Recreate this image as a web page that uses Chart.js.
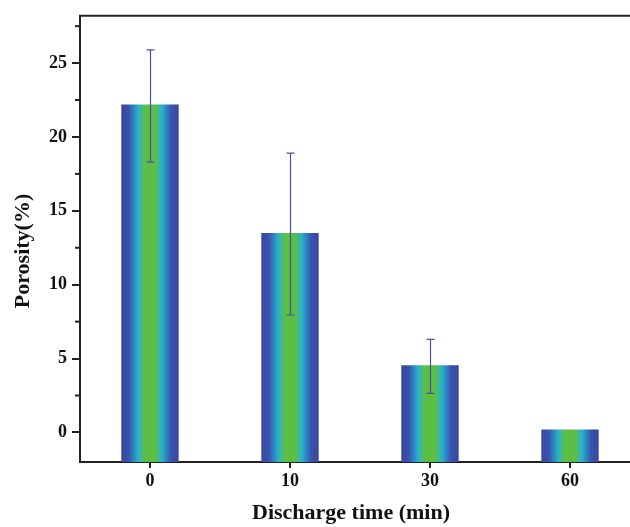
<!DOCTYPE html>
<html>
<head>
<meta charset="utf-8">
<script src="https://cdn.jsdelivr.net/npm/chart.js@4"></script>
<style>
    html, body { margin: 0; padding: 0; background: #fff; overflow: hidden; }
    #wrap { width: 645px; height: 527px; }
</style>
</head>
<body>
<div id="wrap"><canvas id="porosity"></canvas></div>
<script>
// data
const dischargeTimes = ['0', '10', '30', '60'];
const porosity = [22.2, 13.5, 4.55, 0.2];
const errUpper = [25.9, 18.9, 6.3, 0.2];
const errLower = [18.3, 7.95, 2.65, 0.2];
const yMajorTicks = [0, 5, 10, 15, 20, 25];
const yMinorTicks = [2.5, 7.5, 12.5, 17.5, 22.5, 27.5];
const yMin = -2;
const yMax = 28.2;

const serif = "'Liberation Serif', 'Times New Roman', serif";

function barGradient(context) {
    const chart = context.chart;
    const xs = chart.scales.x;
    if (!chart.chartArea || !xs) {
        return '#3a4ea6';
    }
    const cx = xs.getPixelForValue(context.dataIndex);
    const half = xs.width / dischargeTimes.length * 0.4 / 2;
    const g = chart.ctx.createLinearGradient(cx - half, 0, cx + half, 0);
    g.addColorStop(0.0, '#3b47a0');
    g.addColorStop(0.12, '#3a52ac');
    g.addColorStop(0.21, '#2f84c4');
    g.addColorStop(0.29, '#29b3c9');
    g.addColorStop(0.37, '#4cbb72');
    g.addColorStop(0.42, '#5cbf44');
    g.addColorStop(0.58, '#5cbf44');
    g.addColorStop(0.63, '#4cbb72');
    g.addColorStop(0.71, '#29b3c9');
    g.addColorStop(0.79, '#2f84c4');
    g.addColorStop(0.88, '#3a52ac');
    g.addColorStop(1.0, '#3b47a0');
    return g;
}

const decor = {
    id: 'decor',
    afterDatasetsDraw(chart) {
        const ctx = chart.ctx;
        const a = chart.chartArea;
        const x = chart.scales.x;
        const y = chart.scales.y;
        ctx.save();

        // top frame line
        ctx.strokeStyle = '#222';
        ctx.lineWidth = 2;
        ctx.beginPath();
        ctx.moveTo(a.left - 1, a.top);
        ctx.lineTo(a.right, a.top);
        ctx.stroke();

        // minor ticks on the y axis
        yMinorTicks.forEach(v => {
            const py = y.getPixelForValue(v);
            ctx.beginPath();
            ctx.moveTo(a.left - 5, py);
            ctx.lineTo(a.left, py);
            ctx.stroke();
        });

        // error bars
        ctx.strokeStyle = '#4c4eaa';
        ctx.lineWidth = 1.2;
        porosity.forEach((v, i) => {
            if (errUpper[i] === errLower[i]) return;
            const px = Math.round(x.getPixelForValue(i)) + 0.5;
            const top = y.getPixelForValue(errUpper[i]);
            const bot = y.getPixelForValue(errLower[i]);
            ctx.beginPath();
            ctx.moveTo(px, top);
            ctx.lineTo(px, bot);
            ctx.moveTo(px - 4, top);
            ctx.lineTo(px + 4, top);
            ctx.moveTo(px - 4, bot);
            ctx.lineTo(px + 4, bot);
            ctx.stroke();
        });

        // axis titles
        ctx.fillStyle = '#111';
        ctx.font = 'bold 22px ' + serif;
        ctx.textAlign = 'center';
        ctx.textBaseline = 'middle';
        ctx.fillText('Discharge time (min)', 351, 513);
        ctx.translate(23, 251);
        ctx.rotate(-Math.PI / 2);
        ctx.fillText('Porosity(%)', 0, 0);
        ctx.restore();
    }
};

new Chart(document.getElementById('porosity'), {
    type: 'bar',
    data: {
        labels: dischargeTimes,
        datasets: [{
            label: 'Porosity',
            data: porosity,
            base: yMin,
            backgroundColor: barGradient,
            borderWidth: 0,
            barPercentage: 0.41,
            categoryPercentage: 1.0
        }]
    },
    options: {
        responsive: true,
        maintainAspectRatio: false,
        animation: false,
        layout: { padding: { top: 15, right: 5, left: 0, bottom: 0 } },
        plugins: {
            legend: { display: false },
            tooltip: { enabled: false }
        },
        scales: {
            x: {
                offset: true,
                grid: {
                    offset: false,
                    drawOnChartArea: false,
                    drawTicks: true,
                    tickLength: 6,
                    tickColor: '#222',
                    lineWidth: 2
                },
                border: { display: true, color: '#222', width: 2 },
                ticks: {
                    color: '#111',
                    padding: 3,
                    font: { family: serif, size: 18, weight: 'bold' }
                },
                afterFit(scale) { scale.height = 65; }
            },
            y: {
                min: yMin,
                max: yMax,
                afterBuildTicks(scale) {
                    scale.ticks = yMajorTicks.map(v => ({ value: v }));
                },
                grid: {
                    drawOnChartArea: false,
                    drawTicks: true,
                    tickLength: 8,
                    tickColor: '#222',
                    lineWidth: 2
                },
                border: { display: true, color: '#222', width: 2 },
                ticks: {
                    color: '#111',
                    padding: 5,
                    font: { family: serif, size: 18, weight: 'bold' }
                },
                afterFit(scale) { scale.width = 80; }
            }
        }
    },
    plugins: [decor]
});
</script>
</body>
</html>
